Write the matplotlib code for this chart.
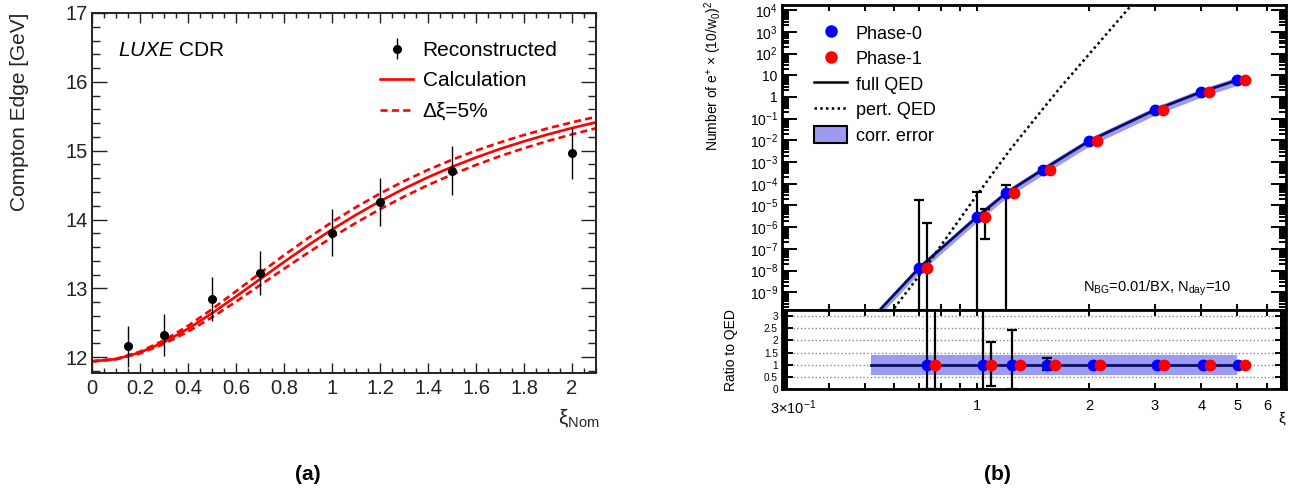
import numpy as np
import matplotlib
matplotlib.use("Agg")
import matplotlib.pyplot as plt
import matplotlib.transforms as mtransforms
from matplotlib.ticker import (MultipleLocator, LogLocator, FixedLocator,
                               NullFormatter, FuncFormatter, FixedFormatter,
                               FormatStrFormatter)
from matplotlib.lines import Line2D
from matplotlib.patches import Patch

plt.rcParams['font.family'] = ['Liberation Sans', 'DejaVu Sans']
plt.rcParams['mathtext.fontset'] = 'custom'
plt.rcParams['mathtext.rm'] = 'Liberation Sans'
plt.rcParams['mathtext.it'] = 'Liberation Sans:italic'
plt.rcParams['mathtext.bf'] = 'Liberation Sans:bold'

# ---------------- panel (a) data ----------------
xi_nom = [0.15, 0.3, 0.5, 0.7, 1.0, 1.2, 1.5, 2.0]
edge_reco = [12.16, 12.32, 12.84, 13.22, 13.81, 14.25, 14.71, 14.96]
edge_err = [0.30, 0.31, 0.32, 0.32, 0.34, 0.35, 0.36, 0.37]

xi_calc = [0.0, 0.1, 0.2, 0.3, 0.4, 0.5, 0.6, 0.7, 0.8, 0.9, 1.0,
           1.1, 1.2, 1.3, 1.4, 1.5, 1.6, 1.7, 1.8, 1.9, 2.0, 2.1]
edge_calc = [11.939, 11.972, 12.068, 12.218, 12.412, 12.638, 12.882, 13.133,
             13.383, 13.625, 13.854, 14.068, 14.266, 14.448, 14.614, 14.765,
             14.901, 15.025, 15.136, 15.237, 15.329, 15.412]
edge_calc_up = [11.939, 11.975, 12.080, 12.245, 12.455, 12.697, 12.957, 13.221,
                13.481, 13.729, 13.963, 14.179, 14.377, 14.558, 14.721, 14.868,
                15.001, 15.120, 15.228, 15.325, 15.412, 15.491]
edge_calc_dn = [11.939, 11.969, 12.055, 12.192, 12.371, 12.579, 12.807, 13.045,
                13.284, 13.517, 13.741, 13.952, 14.150, 14.332, 14.500, 14.653,
                14.793, 14.920, 15.036, 15.142, 15.237, 15.325]

# ---------------- panel (b) data ----------------
xi_phase0 = [0.7, 1.0, 1.2, 1.5, 2.0, 3.0, 4.0, 5.0]
xi_phase1 = [0.735, 1.05, 1.26, 1.575, 2.1, 3.15, 4.2, 5.25]
n_positrons = [1.32e-8, 2.95e-6, 3.8e-5, 4.4e-4, 9.3e-3, 0.25, 1.7, 6.0]
p0_low = [1e-13, 1e-13, 1e-13, 3.4e-4, 9.3e-3, 0.25, 1.7, 6.0]
p0_high = [1.8e-5, 4.2e-5, 8.8e-5, 5.5e-4, 9.3e-3, 0.25, 1.7, 6.0]
p1_low = [1e-13, 2.9e-7, 3.8e-5, 4.4e-4, 9.3e-3, 0.25, 1.7, 6.0]
p1_high = [1.55e-6, 6.9e-6, 3.8e-5, 4.4e-4, 9.3e-3, 0.25, 1.7, 6.0]

xi_qed = [0.53, 0.7, 1.0, 1.2, 1.5, 2.0, 3.0, 4.0, 5.0]
n_qed = [8e-11, 1.32e-8, 2.95e-6, 3.8e-5, 4.4e-4, 9.3e-3, 0.25, 1.7, 6.0]
band_lo = 0.58
band_hi = 1.40

xi_pert = [0.575, 0.595, 0.726, 0.85, 1.0, 1.226, 1.45, 1.67, 2.1, 2.6, 2.8]
n_pert = [7e-11, 1.5e-10, 1.32e-8, 6.0e-7, 3.0e-5, 3.6e-3, 0.13, 2.6,
          248.0, 1.74e4, 7.6e4]

xi_ratio_p0 = [0.735, 1.04, 1.245, 1.54, 2.05, 3.04, 4.03, 5.03]
xi_ratio_p1 = [0.772, 1.09, 1.304, 1.62, 2.136, 3.17, 4.21, 5.25]
ratio_p0 = [1.0, 1.0, 1.0, 1.0, 1.0, 1.0, 1.0, 1.0]
ratio_p1 = [1.0, 1.0, 1.0, 1.0, 1.0, 1.0, 1.0, 1.0]
ratio_p0_low = [0.0, 0.0, 0.0, 0.77, 1.0, 1.0, 1.0, 1.0]
ratio_p0_high = [4.0, 4.0, 2.44, 1.26, 1.0, 1.0, 1.0, 1.0]
ratio_p1_low = [0.0, 0.12, 1.0, 1.0, 1.0, 1.0, 1.0, 1.0]
ratio_p1_high = [4.0, 1.95, 1.0, 1.0, 1.0, 1.0, 1.0, 1.0]
xi_ratio_band = [0.52, 5.0]
ratio_line = [1.0, 1.0]

main_y_exponents = [-9, -8, -7, -6, -5, -4, -3, -2, -1, 0, 1, 2, 3, 4]
ratio_yticks = [0, 0.5, 1, 1.5, 2, 2.5, 3]
ratio_xticks = [0.3, 1, 2, 3, 4, 5, 6]
ratio_xticklabels = ['3×10$^{-1}$', '1', '2', '3', '4', '5', '6']

# ---------------- figure ----------------
W, H = 1291, 493
fig = plt.figure(figsize=(W / 100, H / 100), dpi=100)


def fx(x):
    return x / W


def fy(y):
    return 1 - y / H


axA = fig.add_axes([fx(92), fy(373), (596 - 92) / W, (373 - 13) / H])
axB = fig.add_axes([fx(782), fy(310), (1286 - 782) / W, (310 - 5) / H])
axR = fig.add_axes([fx(782), fy(389), (1286 - 782) / W, (389 - 310) / H])

red = '#ff0000'
blue = '#0000ff'
navy = '#0d0d60'
band_color = '#9b9bf3'

# ---- panel (a)
dash = (0, (2.7, 1.6))
lc, = axA.plot(xi_calc, edge_calc, color=red, lw=1.9, zorder=2)
ld, = axA.plot(xi_calc, edge_calc_up, color=red, lw=1.9, ls=dash, zorder=2)
axA.plot(xi_calc, edge_calc_dn, color=red, lw=1.9, ls=dash, zorder=2)
eb = axA.errorbar(xi_nom, edge_reco, yerr=edge_err, fmt='o', color='black',
                  ms=5.5, elinewidth=1.0, capsize=0, zorder=3)

axA.set_xlim(0, 2.1)
axA.set_ylim(11.77, 17)
axA.xaxis.set_major_locator(MultipleLocator(0.2))
axA.xaxis.set_minor_locator(MultipleLocator(0.05))
axA.yaxis.set_major_locator(MultipleLocator(1))
axA.yaxis.set_minor_locator(MultipleLocator(0.2))
axA.xaxis.set_major_formatter(FormatStrFormatter('%g'))
axA.yaxis.set_major_formatter(FormatStrFormatter('%g'))
axA.tick_params(which='both', direction='in', top=True, right=True,
                labelsize=14.5, width=1.0, colors='#222222')
axA.tick_params(axis='y', which='major', length=11, pad=3)
axA.tick_params(axis='y', which='minor', length=6)
axA.tick_params(axis='x', which='major', length=7, pad=4)
axA.tick_params(axis='x', which='minor', length=3.6)
for s in axA.spines.values():
    s.set_linewidth(1.4)
    s.set_color('#222222')

axA.legend([eb, lc, ld], ['Reconstructed', 'Calculation', 'Δξ=5%'],
           loc='upper left', bbox_to_anchor=(fx(380), fy(41)),
           bbox_transform=fig.transFigure, frameon=False, fontsize=15,
           handlelength=1.6, handletextpad=0.45, labelspacing=0.55,
           borderpad=0, borderaxespad=0)

fig.text(fx(118), fy(51), r'$\mathit{LUXE}$ CDR', fontsize=15, va='center',
         ha='left')
fig.text(fx(20), fy(13), 'Compton Edge [GeV]', rotation=90, ha='center',
         va='top', fontsize=15, color='#222222')
fig.text(fx(599), fy(418), r'ξ$_{\mathrm{Nom}}$', fontsize=15, ha='right',
         va='center', color='#222222')
fig.text(fx(308), fy(475), '(a)', fontweight='bold', fontsize=15,
         ha='center', va='center')

# ---- panel (b) main
axB.set_xscale('log')
axB.set_yscale('log')
axB.fill_between(xi_qed, [n * band_lo for n in n_qed],
                 [n * band_hi for n in n_qed], color=band_color, lw=0, zorder=1)
axB.plot(xi_qed, n_qed, color=navy, lw=2.0, zorder=2)
axB.plot(xi_pert, n_pert, color='black', lw=1.8, ls=(0, (1, 1.3)), zorder=2)
n_arr = np.array(n_positrons)
axB.errorbar(xi_phase0, n_positrons,
             yerr=[n_arr - np.array(p0_low), np.array(p0_high) - n_arr],
             fmt='none', ecolor='black', elinewidth=1.6, capsize=3.5,
             capthick=1.6, zorder=3)
axB.errorbar(xi_phase1, n_positrons,
             yerr=[n_arr - np.array(p1_low), np.array(p1_high) - n_arr],
             fmt='none', ecolor='black', elinewidth=1.6, capsize=3.5,
             capthick=1.6, zorder=3)
axB.plot(xi_phase0, n_positrons, 'o', color=blue, ms=7.5, zorder=4)
axB.plot(xi_phase1, n_positrons, 'o', color=red, ms=7.5, zorder=5)

axB.set_xlim(0.3, 6.75)
axB.set_ylim(10 ** -9.82, 10 ** 4.24)


def logfmt(v, pos):
    e = int(round(np.log10(v)))
    if e == 0:
        return '1'
    if e == 1:
        return '10'
    return '$10^{%d}$' % e


axB.yaxis.set_major_locator(FixedLocator([10.0 ** e for e in main_y_exponents]))
axB.yaxis.set_minor_locator(LogLocator(base=10, subs=np.arange(2, 10) * 1.0,
                                       numticks=60))
axB.yaxis.set_major_formatter(FuncFormatter(logfmt))
axB.yaxis.set_minor_formatter(NullFormatter())
axB.xaxis.set_major_locator(LogLocator(base=10, subs=(1.0,), numticks=20))
axB.xaxis.set_minor_locator(LogLocator(base=10, subs=np.arange(2, 10) * 1.0,
                                       numticks=20))
axB.xaxis.set_major_formatter(NullFormatter())
axB.xaxis.set_minor_formatter(NullFormatter())
axB.tick_params(which='both', direction='in', top=True, right=True,
                labelbottom=False, width=1.4, labelsize=10)
axB.tick_params(axis='y', which='major', length=11, pad=3)
axB.tick_params(axis='y', which='minor', length=5)
axB.tick_params(axis='x', which='both', length=4)
for s in axB.spines.values():
    s.set_linewidth(2.0)

legB_handles = [
    Line2D([], [], marker='o', color=blue, ls='none', ms=8),
    Line2D([], [], marker='o', color=red, ls='none', ms=8),
    Line2D([], [], color='black', lw=1.8),
    Line2D([], [], color='black', lw=1.8, ls=(0, (1, 1.3))),
    Patch(facecolor=band_color, edgecolor='black', lw=1.5),
]
axB.legend(legB_handles, ['Phase-0', 'Phase-1', 'full QED', 'pert. QED',
                          'corr. error'],
           loc='upper left', bbox_to_anchor=(fx(814), fy(24)),
           bbox_transform=fig.transFigure, frameon=False, fontsize=13,
           handlelength=1.85, handletextpad=0.45, labelspacing=0.37,
           handleheight=1.1, borderpad=0, borderaxespad=0)

fig.text(fx(1157), fy(288), r'N$_{\mathrm{BG}}$=0.01/BX, N$_{\mathrm{day}}$=10',
         fontsize=10.5, ha='center', va='center')
fig.text(fx(713), fy(1), 'Number of e$^{+}$ × (10/w$_{0}$)$^{2}$',
         rotation=90, ha='center', va='top', fontsize=10)

# ---- ratio panel
axR.set_xscale('log')
axR.fill_between(xi_ratio_band, band_lo, band_hi, color=band_color, lw=0,
                 zorder=1)
axR.plot(xi_ratio_band, ratio_line, color=navy, lw=2.0, zorder=2)
r0 = np.array(ratio_p0)
r1 = np.array(ratio_p1)
axR.errorbar(xi_ratio_p0, ratio_p0,
             yerr=[r0 - np.array(ratio_p0_low), np.array(ratio_p0_high) - r0],
             fmt='none', ecolor='black', elinewidth=1.6, capsize=3.5,
             capthick=1.6, zorder=3)
axR.errorbar(xi_ratio_p1, ratio_p1,
             yerr=[r1 - np.array(ratio_p1_low), np.array(ratio_p1_high) - r1],
             fmt='none', ecolor='black', elinewidth=1.6, capsize=3.5,
             capthick=1.6, zorder=3)
axR.plot(xi_ratio_p0, ratio_p0, 'o', color=blue, ms=7.5, zorder=4)
axR.plot(xi_ratio_p1, ratio_p1, 'o', color=red, ms=7.5, zorder=5)

axR.set_xlim(0.3, 6.75)
axR.set_ylim(0, 3.25)
axR.xaxis.set_major_locator(FixedLocator(ratio_xticks))
axR.xaxis.set_major_formatter(FixedFormatter(ratio_xticklabels))
axR.xaxis.set_minor_locator(FixedLocator([0.4, 0.5, 0.6, 0.7, 0.8, 0.9]))
axR.xaxis.set_minor_formatter(NullFormatter())
axR.yaxis.set_major_locator(FixedLocator(ratio_yticks))
axR.yaxis.set_minor_locator(MultipleLocator(0.05))
axR.yaxis.set_major_formatter(FormatStrFormatter('%g'))
axR.yaxis.set_minor_formatter(NullFormatter())
axR.yaxis.grid(True, which='major', ls=':', color='#888888', lw=1.0)
axR.tick_params(which='both', direction='in', top=True, right=True,
                width=1.4, labelsize=10.5)
axR.tick_params(axis='y', which='major', length=8, pad=3, labelsize=7.2)
axR.tick_params(axis='y', which='minor', length=4)
axR.tick_params(axis='x', which='both', length=4, pad=7)
for s in axR.spines.values():
    s.set_linewidth(2.0)

# nudge the first ratio x tick label to the right, as in the original
shift = mtransforms.ScaledTranslation(8 / 72, 0, fig.dpi_scale_trans)
first_lbl = axR.xaxis.get_majorticklabels()[0]
first_lbl.set_transform(first_lbl.get_transform() + shift)

fig.text(fx(731), fy(350), 'Ratio to QED', rotation=90, ha='center',
         va='center', fontsize=10)
fig.text(fx(1282), fy(419), 'ξ', fontsize=11, ha='center', va='center')
fig.text(fx(997), fy(475), '(b)', fontweight='bold', fontsize=15,
         ha='center', va='center')

fig.savefig('out.png', dpi=100)
